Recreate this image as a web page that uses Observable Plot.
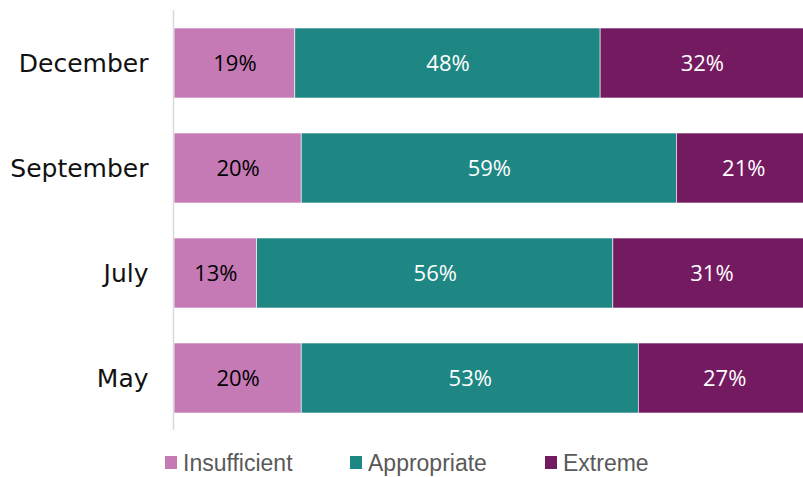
<!DOCTYPE html>
<html>
<head>
<meta charset="utf-8">
<script src="https://cdn.jsdelivr.net/npm/d3@7"></script>
<script src="https://cdn.jsdelivr.net/npm/@observablehq/plot@0.6"></script>
<style>
  html, body { margin: 0; padding: 0; background: #fff; }
  #wrap { position: relative; width: 803px; height: 477px; overflow: hidden; }
  #legend { position: absolute; top: 447px; left: 0; width: 803px; height: 30px;
            font-family: "Liberation Sans", Arial, sans-serif; font-size: 23px; color: #595959; }
  .item { position: absolute; top: 0; display: flex; align-items: center; height: 30px; }
  .sw { width: 12px; height: 13px; margin-right: 6px; }
  .lbl { display: inline-block; transform: scaleY(1.08); }
</style>
</head>
<body>
<div id="wrap"><div id="chart"></div><div id="legend"></div></div>
<script>
const months = ["December", "September", "July", "May"];
const categories = ["Insufficient", "Appropriate", "Extreme"];
const colors = ["#c57ab6", "#1e8784", "#741a61"];
const insufficient = [19, 20, 13, 20];
const appropriate = [48, 59, 56, 53];
const extreme = [32, 21, 31, 27];

const series = [insufficient, appropriate, extreme];
const data = [];
months.forEach((m, i) => {
  categories.forEach((c, j) => {
    data.push({month: m, cat: c, value: series[j][i]});
  });
});

const stackOpts = {x: "value", y: "month", z: "cat", order: categories};

const plot = Plot.plot({
  width: 803,
  height: 440,
  marginLeft: 174,
  marginRight: -7,
  marginTop: 10,
  marginBottom: 10,
  style: {fontFamily: "DejaVu Sans, sans-serif", background: "#fff"},
  x: {domain: [0, 100], axis: null},
  y: {domain: months, paddingInner: 1/3, paddingOuter: 1/6, label: null},
  color: {domain: categories, range: colors},
  marks: [
    Plot.barX(data, Plot.stackX({...stackOpts, fill: "cat", stroke: "#fff", strokeWidth: 0.6})),
    Plot.text(data, Plot.stackX({
      ...stackOpts, text: d => d.cat === "Insufficient" ? d.value + "%" : "", fill: "#000",
      fontSize: 22, fontFamily: "Open Sans, sans-serif"
    })),
    Plot.text(data, Plot.stackX({
      ...stackOpts, text: d => d.cat === "Insufficient" ? "" : d.value + "%", fill: "#fff",
      fontSize: 22, fontFamily: "Open Sans, sans-serif"
    })),
    Plot.ruleX([0], {stroke: "#d9d9d9", strokeWidth: 1.5, dx: -1}),
    Plot.axisY({tickSize: 0, tickPadding: 26, fontSize: 25, label: null, fill: "#111"})
  ]
});
document.getElementById("chart").appendChild(plot);

const legend = document.getElementById("legend");
const lefts = [165, 350, 545];
categories.forEach((c, i) => {
  const item = document.createElement("div");
  item.className = "item";
  item.style.left = lefts[i] + "px";
  const sw = document.createElement("span");
  sw.className = "sw";
  sw.style.background = colors[i];
  const t = document.createElement("span");
  t.className = "lbl";
  t.textContent = c;
  item.appendChild(sw);
  item.appendChild(t);
  legend.appendChild(item);
});
</script>
</body>
</html>
